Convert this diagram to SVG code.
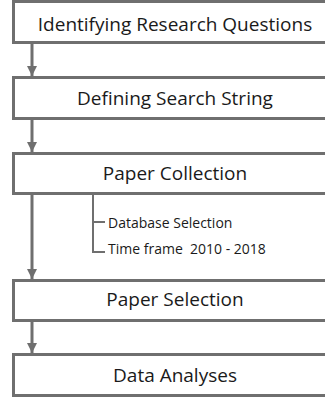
<svg xmlns="http://www.w3.org/2000/svg" width="325" height="398" viewBox="0 0 325 398">
<style>
.box{fill:#fff;stroke:#6f6f6f;stroke-width:3}
.t{font-family:"Open Sans",Lato,sans-serif;font-size:19px;fill:#1a1a1a;text-anchor:middle}
.s{font-family:"Open Sans",Lato,sans-serif;font-size:14px;fill:#1a1a1a}
.c{stroke:#6f6f6f;stroke-width:3;fill:none}
.b{stroke:#6f6f6f;stroke-width:2;fill:none}
</style>
<defs>
<marker id="ah" viewBox="0 0 10 10" refX="10" refY="5" markerWidth="3.4" markerHeight="3.4" markerUnits="strokeWidth" orient="auto">
<path d="M0,0 L10,5 L0,10 z" fill="#6f6f6f"/>
</marker>
</defs>
<rect width="325" height="398" fill="#fff"/>
<g id="connectors">
<line class="c" x1="32" y1="43" x2="32" y2="76" marker-end="url(#ah)"/>
<line class="c" x1="32" y1="119" x2="32" y2="152" marker-end="url(#ah)"/>
<line class="c" x1="32" y1="194" x2="32" y2="279" marker-end="url(#ah)"/>
<line class="c" x1="32" y1="321" x2="32" y2="353" marker-end="url(#ah)"/>
<path class="b" d="M93,194 V252 H105 M93,222 H105"/>
</g>
<g id="n1"><rect class="box" x="13.5" y="1.5" width="330" height="41"/><text class="t" x="175" y="30.5">Identifying Research Questions</text></g>
<g id="n2"><rect class="box" x="13.5" y="77.5" width="330" height="41"/><text class="t" x="175" y="105">Defining Search String</text></g>
<g id="n3"><rect class="box" x="13.5" y="153.5" width="330" height="40"/><text class="t" x="175" y="180">Paper Collection</text></g>
<g id="n3a"><text class="s" x="108" y="227.5">Database Selection</text></g>
<g id="n3b"><text class="s" x="108" y="253.5" xml:space="preserve">Time frame  2010 - 2018</text></g>
<g id="n4"><rect class="box" x="13.5" y="280.5" width="330" height="40"/><text class="t" x="175" y="305.5">Paper Selection</text></g>
<g id="n5"><rect class="box" x="13.5" y="354.5" width="330" height="41"/><text class="t" x="175" y="382">Data Analyses</text></g>
</svg>
